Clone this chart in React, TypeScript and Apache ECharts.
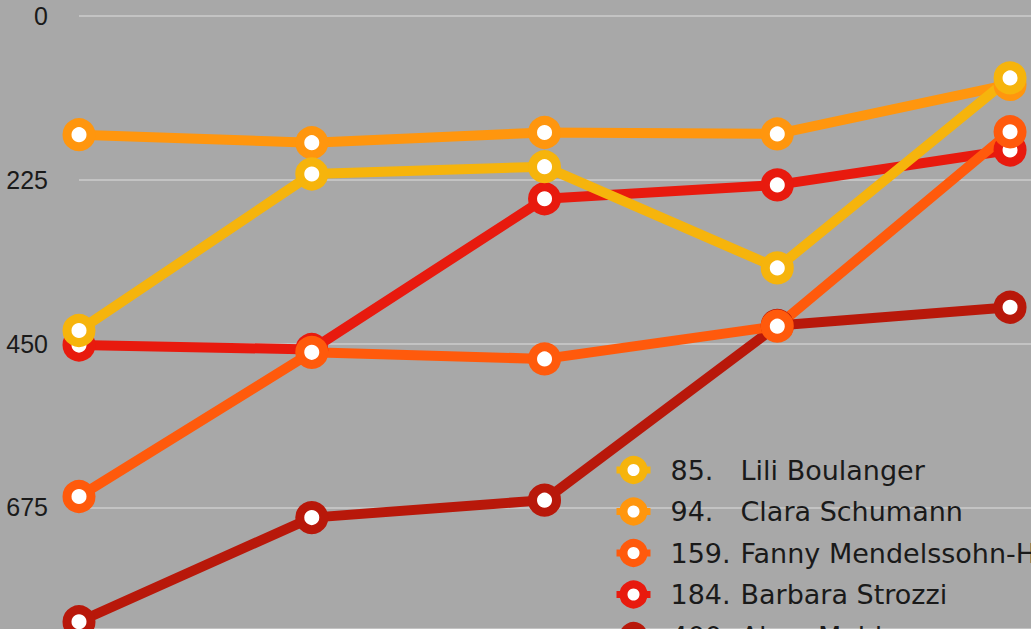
import React, { useEffect, useRef } from "react";
import * as echarts from "echarts";

const categories = ["1", "2", "3", "4", "5"];
const yTicks = [0, 225, 450, 675];

const names = [
  "Lili Boulanger",
  "Clara Schumann",
  "Fanny Mendelssohn-Hensel",
  "Barbara Strozzi",
  "Alma Mahler",
];
const ranks = ["85.", "94.", "159.", "184.", "400."];
const colors = ["#f6b40c", "#ff960e", "#ff5a0c", "#e81a0e", "#b8180a"];

const lili = [432, 217, 207, 346, 85];
const clara = [163, 174, 160, 162, 94];
const fanny = [660, 462, 471, 426, 159];
const barbara = [452, 458, 251, 232, 184];
const alma = [832, 689, 665, 425, 400];
const values = [lili, clara, fanny, barbara, alma];

export default function App() {
  const ref = useRef<HTMLDivElement>(null);
  useEffect(() => {
    document.body.style.margin = "0";
    const chart = echarts.init(ref.current!, null, { renderer: "svg" });
    const series = names
      .map((n, i) => ({
        name: n,
        type: "line",
        data: values[i].map((v, j) => [j, v]),
        symbol: "circle",
        symbolSize: 24,
        showSymbol: true,
        lineStyle: { width: 10, color: colors[i] },
        itemStyle: { color: "#ffffff", borderColor: colors[i], borderWidth: 9 },
        emphasis: { disabled: true },
      }))
      .reverse();
    chart.setOption({
      animation: false,
      backgroundColor: "#a8a8a8",
      grid: { left: 79, right: 0, top: 16, bottom: 0 },
      xAxis: {
        type: "value",
        min: 0,
        max: categories.length - 1 + 0.09,
        axisLine: { show: false },
        axisTick: { show: false },
        axisLabel: { show: false },
        splitLine: { show: false },
      },
      yAxis: {
        type: "value",
        inverse: true,
        min: 0,
        max: 842,
        interval: 225,
        axisLine: { show: false },
        axisTick: { show: false },
        axisLabel: {
          margin: 31,
          fontFamily: "Liberation Sans",
          fontSize: 25,
          color: "#1a1a1a",
          formatter: (v: number) => (yTicks.includes(v) ? String(v) : ""),
        },
        splitLine: { lineStyle: { color: "rgba(235,235,235,0.55)", width: 1.5 } },
      },
      legend: {
        orient: "vertical",
        left: 608,
        top: 451,
        height: 400,
        itemWidth: 34,
        itemHeight: 25,
        itemGap: 13.5,
        data: names,
        selectedMode: false,
        itemStyle: { borderWidth: 8 },
        lineStyle: { width: 7 },
        formatter: (n: string) => `{num|${ranks[names.indexOf(n)]}}{name|${n}}`,
        textStyle: {
          fontFamily: "DejaVu Sans",
          fontSize: 27,
          lineHeight: 28,
          color: "#1a1a1a",
          rich: {
            num: { fontFamily: "DejaVu Sans", fontSize: 27, lineHeight: 28, color: "#1a1a1a", width: 70, padding: [0, 0, 0, 15] },
            name: { fontFamily: "DejaVu Sans", fontSize: 27, lineHeight: 28, color: "#1a1a1a" },
          },
        },
      },
      series,
    });
    return () => chart.dispose();
  }, []);
  return <div ref={ref} style={{ width: 1031, height: 629 }} />;
}
